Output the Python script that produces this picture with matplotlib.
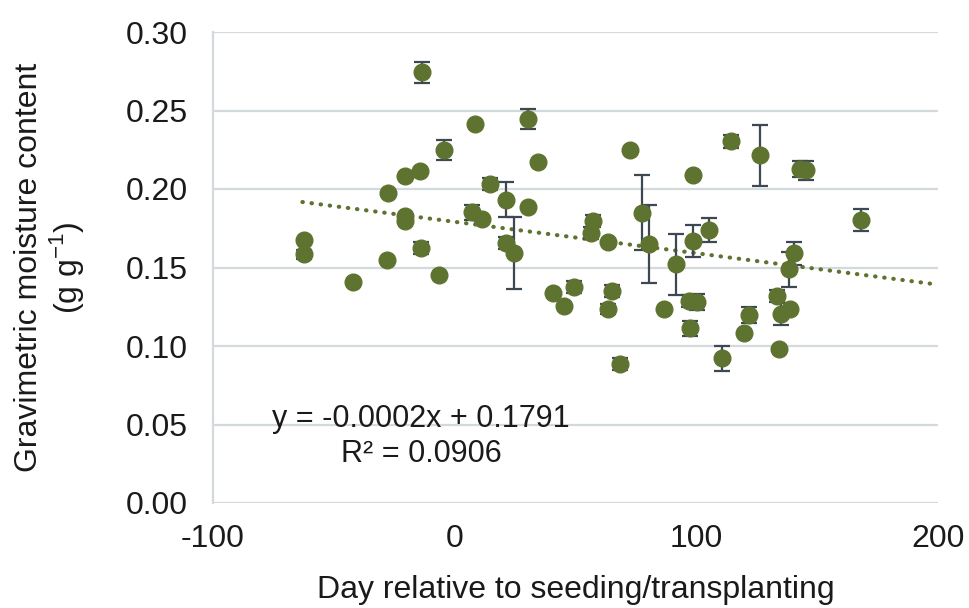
import numpy as np
import matplotlib
matplotlib.use("Agg")
import matplotlib.pyplot as plt

plt.rcParams['font.family'] = ['Liberation Sans', 'DejaVu Sans']
plt.rcParams['mathtext.fontset'] = 'custom'
plt.rcParams['mathtext.rm'] = 'Liberation Sans'
plt.rcParams['axes.unicode_minus'] = False

# ── data ──────────────────────────────────────────────────────────────────────
day = [-62.4, -62.4, -41.9, -27.5, -27.8, -20.6, -20.6, -20.4, -14.5, -13.7,
       -14.1, -6.6, -4.4, 7.3, 8.3, 11.5, 14.5, 21.4, 21.4, 24.6,
       30.4, 30.5, 34.5, 40.5, 45.4, 49.5, 57.1, 56.4, 63.4, 63.3,
       65.3, 68.5, 72.5, 77.4, 80.5, 86.5, 91.6, 97.1, 100.3, 97.5,
       98.5, 98.5, 105.4, 110.6, 114.4, 119.6, 121.6, 126.5, 133.4, 134.4,
       135.1, 138.8, 138.3, 140.3, 142.7, 145.5, 168.3]
moisture = [0.1678, 0.1583, 0.1410, 0.1975, 0.1550, 0.2085, 0.1831, 0.1795, 0.2113, 0.2744,
            0.1625, 0.1450, 0.2250, 0.1852, 0.2416, 0.1810, 0.2032, 0.1933, 0.1657, 0.1594,
            0.1884, 0.2446, 0.2170, 0.1340, 0.1257, 0.1375, 0.1795, 0.1720, 0.1665, 0.1237,
            0.1350, 0.0884, 0.2250, 0.1850, 0.1650, 0.1233, 0.1520, 0.1286, 0.1280, 0.1112,
            0.2087, 0.1670, 0.1738, 0.0922, 0.2303, 0.1085, 0.1197, 0.2215, 0.1318, 0.0983,
            0.1201, 0.1233, 0.1488, 0.1590, 0.2128, 0.2120, 0.1800]
err = [0.0, 0.003, 0.0, 0.0, 0.0, 0.0, 0.0, 0.0, 0.0, 0.0067,
       0.004, 0.0, 0.0064, 0.0048, 0.0, 0.0, 0.004, 0.011, 0.004, 0.023,
       0.0, 0.0064, 0.0, 0.0, 0.0, 0.004, 0.004, 0.004, 0.0, 0.003,
       0.004, 0.004, 0.0, 0.024, 0.025, 0.0, 0.0195, 0.004, 0.005, 0.005,
       0.0, 0.010, 0.0075, 0.008, 0.004, 0.0, 0.005, 0.0195, 0.004, 0.0,
       0.007, 0.0, 0.011, 0.0075, 0.005, 0.006, 0.007]

trend_slope = -0.0002
trend_intercept = 0.1791
trend_r2 = 0.0906
trend_x = [-63, 200]

x_ticks = [-100, 0, 100, 200]
y_ticks = [0.00, 0.05, 0.10, 0.15, 0.20, 0.25, 0.30]

GREEN = '#5f7330'
GRID = '#d3dadd'
TXT = '#1a1a1a'

# ── figure ────────────────────────────────────────────────────────────────────
fig = plt.figure(figsize=(9.69, 6.08), dpi=100)
ax = fig.add_axes([213/969, 1 - 503/608, 725/969, 471/608])

ax.errorbar(day, moisture, yerr=err, fmt='none', ecolor='#3d4853',
            elinewidth=1.6, capsize=5.5, capthick=1.6, zorder=2)
ax.plot(day, moisture, 'o', color=GREEN, markersize=12, zorder=3)

tx = np.array(trend_x)
ax.plot(tx, trend_slope * tx + trend_intercept, color=GREEN, lw=3,
        linestyle=(0, (0.1, 2.1)), dash_capstyle='round', zorder=1)

ax.text(-13.9, 0.0425,
        f"y = {trend_slope:.4f}x + {trend_intercept:.4f}\nR\u00b2 = {trend_r2:.4f}",
        ha='center', va='center', fontsize=22, linespacing=1.2, color=TXT)

ax.set_xlim(-100, 200)
ax.set_ylim(0, 0.30)
ax.set_xticks(x_ticks)
ax.set_yticks(y_ticks)
ax.set_yticklabels([f"{v:.2f}" for v in y_ticks])
ax.tick_params(axis='both', length=0, labelsize=23, colors=TXT)
ax.tick_params(axis='y', pad=18)
ax.tick_params(axis='x', pad=15)

ax.grid(axis='y', color=GRID, lw=1.6, zorder=0)
ax.set_axisbelow(True)
for s in ['top', 'right', 'bottom']:
    ax.spines[s].set_visible(False)
ax.spines['left'].set_color(GRID)
ax.spines['left'].set_linewidth(1.6)

ax.set_xlabel("Day relative to seeding/transplanting", fontsize=23, labelpad=15,
              color=TXT)
ax.set_ylabel("Gravimetric moisture content\n(g g$^{-1}$)", fontsize=23,
              linespacing=1.1, color=TXT)
ax.yaxis.set_label_coords(-0.175, 0.5)

fig.savefig("out.png", dpi=100)
